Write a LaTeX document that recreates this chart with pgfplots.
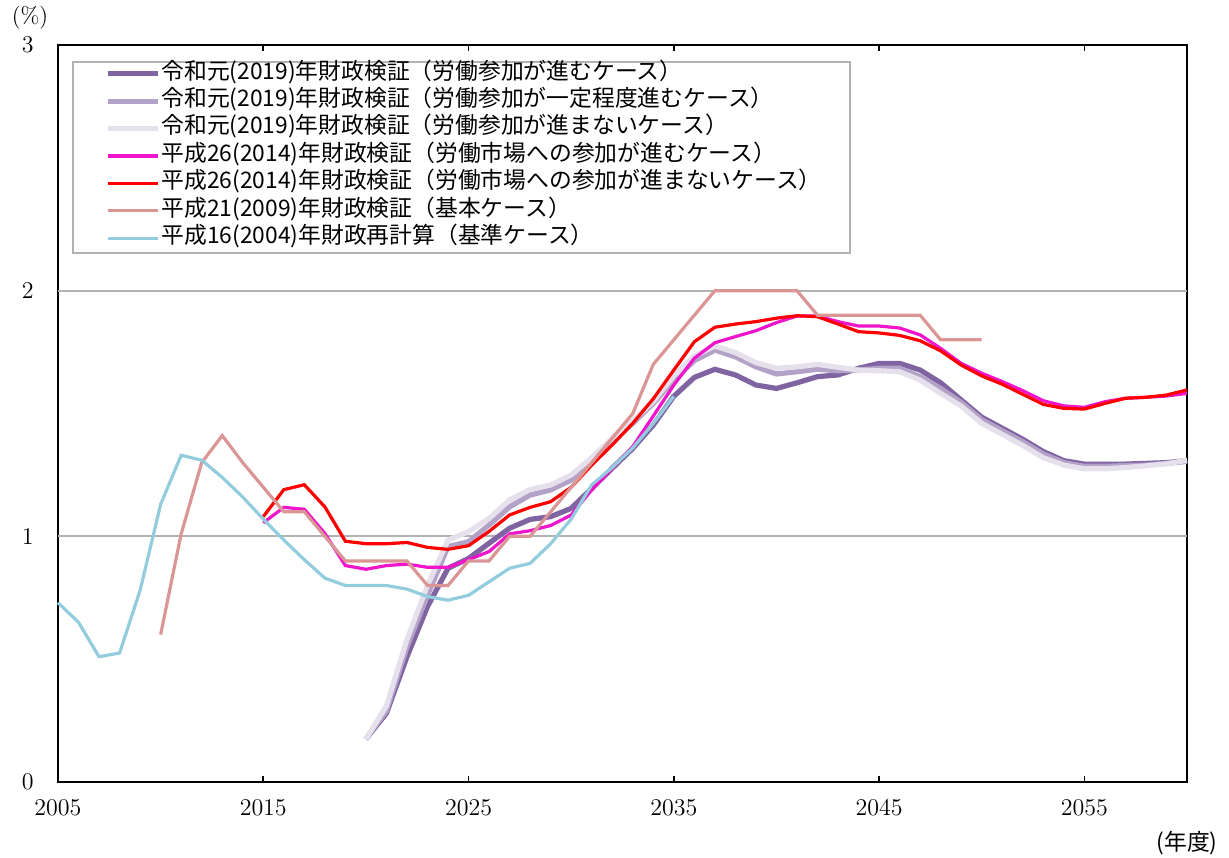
\documentclass[border=0pt]{standalone}
\usepackage{pgfplots}
\pgfplotsset{compat=1.18}
\usepackage{fontspec}
\newfontfamily\jp{Noto Sans CJK JP}
\definecolor{pA}{RGB}{128,100,162}
\definecolor{pB}{RGB}{179,162,199}
\definecolor{pC}{RGB}{230,224,236}
\definecolor{mag}{RGB}{240,20,205}
\definecolor{rd}{RGB}{255,0,0}
\definecolor{rose}{RGB}{217,150,148}
\definecolor{sky}{RGB}{147,205,221}
\definecolor{gridc}{RGB}{178,178,178}
\begin{document}
\begin{tikzpicture}
\begin{axis}[
  at={(0,0)}, anchor=south west,
  scale only axis, width=564.5pt, height=368.5pt,
  xmin=2005, xmax=2060, ymin=0, ymax=3,
  xtick={2005,2015,2025,2035,2045,2055},
  ytick={0,1,2,3},
  extra y ticks={1,2}, extra y tick labels={},
  extra y tick style={ymajorgrids=true, major tick length=0pt},
  grid style={draw=gridc, line width=0.9pt},
  xticklabel style={/pgf/number format/1000 sep={}, inner sep=0pt, yshift=-9pt},
  yticklabel style={inner sep=0pt, xshift=-12pt},
  tick label style={font=\fontsize{11.5}{13}\selectfont},
  ytick style={draw=none},
  xtick style={black, line width=0.8pt},
  tick align=inside, major tick length=3pt,
  axis line style={line width=1pt, black},
  clip=false,
  legend cell align=left,
  legend image code/.code={\draw[#1] (0pt,0pt) -- (25pt,0pt);},
  legend style={at={(0.0416,0.980)}, anchor=north west, draw=none, fill=none, inner sep=0pt,
    font=\jp\fontsize{11.4}{13}\selectfont, row sep=0pt, column sep=0.5pt,
    nodes={inner sep=0pt, text height=9.5pt, text depth=4.2pt}},
]
\draw[gridc, line width=0.8pt, fill=white] (rel axis cs:0.0133,0.977) rectangle (rel axis cs:0.7015,0.7178);

\addplot[pA, line width=2.6pt] coordinates {
(2020,0.175)(2021,0.28)(2022,0.51)(2023,0.714)(2024,0.87)(2025,0.91)(2026,0.972)(2027,1.033)(2028,1.069)(2029,1.08)
(2030,1.114)(2031,1.195)(2032,1.277)(2033,1.358)(2034,1.453)(2035,1.57)(2036,1.647)(2037,1.68)(2038,1.657)(2039,1.616)
(2040,1.602)(2041,1.625)(2042,1.65)(2043,1.657)(2044,1.684)(2045,1.704)(2046,1.704)(2047,1.677)(2048,1.625)(2049,1.555)
(2050,1.485)(2051,1.44)(2052,1.395)(2053,1.345)(2054,1.308)(2055,1.294)(2056,1.294)(2057,1.294)(2058,1.297)(2059,1.30)(2060,1.308)};
\addlegendentry{令和元(2019)年財政検証（労働参加が進むケース）}

\addplot[pB, line width=2.6pt] coordinates {
(2020,0.175)(2021,0.29)(2022,0.55)(2023,0.76)(2024,0.958)(2025,0.978)(2026,1.046)(2027,1.12)(2028,1.168)(2029,1.189)
(2030,1.229)(2031,1.304)(2032,1.385)(2033,1.46)(2034,1.541)(2035,1.636)(2036,1.715)(2037,1.758)(2038,1.731)(2039,1.69)
(2040,1.661)(2041,1.67)(2042,1.68)(2043,1.674)(2044,1.677)(2045,1.684)(2046,1.684)(2047,1.65)(2048,1.602)(2049,1.545)
(2050,1.475)(2051,1.43)(2052,1.385)(2053,1.335)(2054,1.30)(2055,1.285)(2056,1.285)(2057,1.288)(2058,1.29)(2059,1.297)(2060,1.305)};
\addlegendentry{令和元(2019)年財政検証（労働参加が一定程度進むケース）}

\addplot[pC, line width=2.6pt] coordinates {
(2020,0.175)(2021,0.31)(2022,0.58)(2023,0.80)(2024,0.985)(2025,1.019)(2026,1.073)(2027,1.148)(2028,1.191)(2029,1.209)
(2030,1.25)(2031,1.32)(2032,1.40)(2033,1.47)(2034,1.55)(2035,1.653)(2036,1.734)(2037,1.775)(2038,1.748)(2039,1.707)
(2040,1.684)(2041,1.69)(2042,1.70)(2043,1.688)(2044,1.677)(2045,1.674)(2046,1.67)(2047,1.636)(2048,1.582)(2049,1.53)
(2050,1.46)(2051,1.415)(2052,1.37)(2053,1.32)(2054,1.29)(2055,1.275)(2056,1.275)(2057,1.28)(2058,1.287)(2059,1.295)(2060,1.31)};
\addlegendentry{令和元(2019)年財政検証（労働参加が進まないケース）}

\addplot[mag, line width=1.6pt] coordinates {
(2015,1.055)(2016,1.118)(2017,1.11)(2018,1.012)(2019,0.881)(2020,0.866)(2021,0.881)(2022,0.887)(2023,0.874)(2024,0.874)
(2025,0.905)(2026,0.938)(2027,1.01)(2028,1.023)(2029,1.044)(2030,1.087)(2031,1.189)(2032,1.277)(2033,1.365)(2034,1.49)
(2035,1.616)(2036,1.725)(2037,1.788)(2038,1.813)(2039,1.837)(2040,1.87)(2041,1.897)(2042,1.897)(2043,1.874)(2044,1.856)
(2045,1.856)(2046,1.848)(2047,1.82)(2048,1.765)(2049,1.704)(2050,1.664)(2051,1.63)(2052,1.593)(2053,1.552)(2054,1.531)
(2055,1.525)(2056,1.548)(2057,1.562)(2058,1.566)(2059,1.571)(2060,1.582)};
\addlegendentry{平成26(2014)年財政検証（労働市場への参加が進むケース）}

\addplot[rd, line width=1.6pt] coordinates {
(2015,1.08)(2016,1.19)(2017,1.21)(2018,1.12)(2019,0.98)(2020,0.97)(2021,0.97)(2022,0.975)(2023,0.955)(2024,0.947)
(2025,0.962)(2026,1.02)(2027,1.087)(2028,1.118)(2029,1.141)(2030,1.20)(2031,1.29)(2032,1.372)(2033,1.46)(2034,1.56)
(2035,1.677)(2036,1.792)(2037,1.851)(2038,1.864)(2039,1.874)(2040,1.888)(2041,1.898)(2042,1.894)(2043,1.864)(2044,1.833)
(2045,1.828)(2046,1.818)(2047,1.796)(2048,1.755)(2049,1.697)(2050,1.653)(2051,1.619)(2052,1.578)(2053,1.537)(2054,1.521)
(2055,1.518)(2056,1.541)(2057,1.562)(2058,1.566)(2059,1.575)(2060,1.596)};
\addlegendentry{平成26(2014)年財政検証（労働市場への参加が進まないケース）}

\addplot[rose, line width=1.6pt] coordinates {
(2010,0.60)(2011,1.01)(2012,1.30)(2013,1.41)(2014,1.30)(2015,1.20)(2016,1.10)(2017,1.10)(2018,1.00)(2019,0.90)
(2020,0.90)(2021,0.90)(2022,0.90)(2023,0.80)(2024,0.80)(2025,0.90)(2026,0.90)(2027,1.00)(2028,1.00)(2029,1.10)
(2030,1.20)(2031,1.30)(2032,1.40)(2033,1.50)(2034,1.70)(2035,1.80)(2036,1.90)(2037,2.00)(2038,2.00)(2039,2.00)
(2040,2.00)(2041,2.00)(2042,1.90)(2043,1.90)(2044,1.90)(2045,1.90)(2046,1.90)(2047,1.90)(2048,1.80)(2049,1.80)(2050,1.80)};
\addlegendentry{平成21(2009)年財政検証（基本ケース）}

\addplot[sky, line width=1.6pt] coordinates {
(2005,0.73)(2006,0.65)(2007,0.51)(2008,0.525)(2009,0.78)(2010,1.13)(2011,1.33)(2012,1.31)(2013,1.24)(2014,1.16)
(2015,1.07)(2016,0.985)(2017,0.905)(2018,0.83)(2019,0.80)(2020,0.80)(2021,0.80)(2022,0.785)(2023,0.755)(2024,0.74)
(2025,0.76)(2026,0.815)(2027,0.87)(2028,0.89)(2029,0.97)(2030,1.07)(2031,1.21)(2032,1.28)(2033,1.36)(2034,1.46)(2035,1.57)};
\addlegendentry{平成16(2004)年財政再計算（基準ケース）}

\node[font=\fontsize{11.5}{13}\selectfont] at (rel axis cs:0,1) [xshift=-14pt, yshift=13.5pt] {(\%)};
\node[font=\jp\fontsize{11.4}{13}\selectfont] at (rel axis cs:1,0) [yshift=-30.5pt] {(年度)};
\end{axis}
\pgfresetboundingbox
\path[use as bounding box] (-29pt,-37.5pt) rectangle (585.5pt,391pt);
\end{tikzpicture}
\end{document}
